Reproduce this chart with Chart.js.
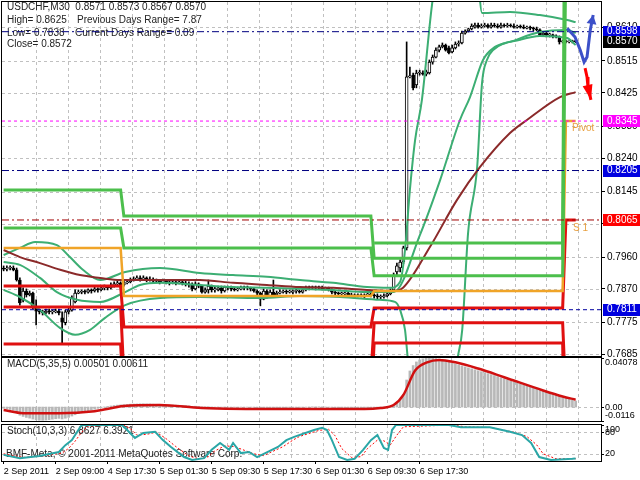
<!DOCTYPE html>
<html>
<head>
<meta charset="utf-8">
<script src="https://cdn.jsdelivr.net/npm/chart.js@4.4.0/dist/chart.umd.min.js"></script>
<style>
  body { margin: 0; background: #fff; }
  canvas { position: absolute; left: 0; }
</style>
</head>
<body>
<canvas id="mainChart" width="640" height="358" style="top:0"></canvas>
<canvas id="macdChart" width="640" height="66" style="top:357px"></canvas>
<canvas id="stochChart" width="640" height="57" style="top:423px"></canvas>
<script>
// ---- data ----
const opens = [.7929,.7926,.7929,.7929,.7924,.7895,.7839,.7864,.7853,.7858,.7819,.7807,.7805,.7802,.7807,.7805,.7805,.7807,.7788,.7774,
  .7805,.7810,.7833,.7858,.7861,.7864,.7861,.7867,.7864,.7870,.7867,.7873,.7875,.7873,.7881,.7884,.7887,.7881,.7887,.7890,
  .7895,.7898,.7901,.7898,.7901,.7895,.7898,.7892,.7892,.7890,.7892,.7890,.7887,.7890,.7887,.7890,.7887,.7884,.7881,.7870,
  .7884,.7878,.7861,.7867,.7878,.7867,.7867,.7873,.7864,.7875,.7873,.7870,.7867,.7870,.7873,.7873,.7873,.7870,.7864,.7858,
  .7841,.7864,.7850,.7861,.7853,.7858,.7861,.7864,.7861,.7861,.7864,.7864,.7861,.7867,.7873,.7873,.7875,.7873,.7873,.7870,
  .7873,.7867,.7861,.7858,.7856,.7856,.7858,.7853,.7850,.7850,.7853,.7850,.7853,.7856,.7853,.7850,.7847,.7847,.7850,.7856,
  .7867,.7918,.7929,.7946,.7986,.8470,.8475,.8447,.8481,.8481,.8478,.8481,.8512,.8526,.8546,.8555,.8560,.8552,.8541,.8552,
  .8563,.8566,.8594,.8600,.8606,.8611,.8617,.8611,.8614,.8617,.8611,.8617,.8614,.8611,.8617,.8614,.8617,.8614,.8611,.8614,
  .8611,.8608,.8611,.8608,.8606,.8603,.8589,.8594,.8589,.8589,.8586,.8583,.8569,.8572,.8569,.8569,.8571];
const highs = [.7935,.7935,.7935,.7935,.7929,.7901,.7873,.7870,.7864,.7861,.7839,.7813,.7810,.7813,.7813,.7810,.7813,.7813,.7805,.7810,
  .7816,.7850,.7867,.7867,.7867,.7867,.7870,.7870,.7875,.7873,.7878,.7881,.7878,.7887,.7890,.7892,.7890,.7892,.7895,.7901,
  .7904,.7907,.7907,.7907,.7904,.7904,.7901,.7898,.7895,.7898,.7895,.7892,.7895,.7892,.7895,.7892,.7892,.7890,.7887,.7890,
  .7887,.7881,.7873,.7895,.7881,.7875,.7878,.7878,.7878,.7878,.7878,.7875,.7875,.7878,.7878,.7878,.7875,.7873,.7867,.7861,
  .7870,.7867,.7867,.7895,.7864,.7867,.7867,.7867,.7867,.7867,.7870,.7867,.7870,.7878,.7878,.7878,.7878,.7878,.7878,.7875,
  .7875,.7870,.7864,.7861,.7861,.7861,.7861,.7858,.7856,.7856,.7856,.7856,.7858,.7858,.7856,.7856,.7853,.7856,.7864,.7870,
  .7915,.7943,.7952,.7991,.8569,.8498,.8481,.8489,.8489,.8487,.8489,.8518,.8532,.8552,.8560,.8566,.8563,.8557,.8560,.8569,
  .8572,.8600,.8603,.8608,.8620,.8622,.8622,.8620,.8622,.8620,.8622,.8622,.8620,.8622,.8620,.8622,.8620,.8620,.8617,.8617,
  .8617,.8614,.8614,.8611,.8611,.8606,.8597,.8597,.8594,.8591,.8589,.8586,.8574,.8574,.8572,.8574,.8573];
const lows = [.7921,.7921,.7924,.7921,.7892,.7824,.7833,.7847,.7850,.7813,.7768,.7799,.7796,.7799,.7799,.7799,.7802,.7796,.7717,.7768,
  .7799,.7807,.7830,.7856,.7856,.7856,.7858,.7858,.7861,.7861,.7864,.7867,.7867,.7870,.7875,.7878,.7867,.7878,.7884,.7887,
  .7892,.7895,.7892,.7895,.7890,.7892,.7887,.7887,.7884,.7887,.7884,.7881,.7884,.7881,.7884,.7881,.7878,.7875,.7864,.7867,
  .7873,.7858,.7858,.7858,.7861,.7861,.7864,.7858,.7861,.7867,.7864,.7864,.7864,.7867,.7867,.7867,.7864,.7861,.7853,.7822,
  .7839,.7844,.7847,.7847,.7850,.7856,.7858,.7856,.7858,.7856,.7858,.7858,.7858,.7864,.7867,.7870,.7867,.7870,.7867,.7867,
  .7864,.7856,.7853,.7853,.7850,.7853,.7847,.7847,.7844,.7847,.7847,.7844,.7850,.7847,.7844,.7841,.7841,.7844,.7847,.7853,
  .7861,.7909,.7918,.7941,.7980,.8467,.8433,.8439,.8475,.8475,.8473,.8478,.8506,.8524,.8541,.8552,.8543,.8535,.8538,.8549,
  .8557,.8563,.8591,.8597,.8603,.8608,.8608,.8608,.8611,.8608,.8608,.8611,.8608,.8608,.8611,.8611,.8611,.8608,.8608,.8608,
  .8606,.8606,.8603,.8600,.8600,.8586,.8586,.8583,.8583,.8580,.8580,.8563,.8566,.8566,.8566,.8566,.8567];
const closes = [.7926,.7929,.7929,.7924,.7895,.7830,.7864,.7853,.7858,.7819,.7807,.7805,.7802,.7807,.7805,.7805,.7807,.7802,.7776,.7805,
  .7810,.7844,.7858,.7861,.7864,.7861,.7867,.7864,.7870,.7867,.7873,.7875,.7873,.7881,.7884,.7887,.7881,.7887,.7890,.7895,
  .7898,.7901,.7898,.7901,.7895,.7898,.7892,.7892,.7890,.7892,.7890,.7887,.7890,.7887,.7890,.7887,.7884,.7881,.7870,.7884,
  .7878,.7861,.7867,.7878,.7867,.7867,.7873,.7864,.7875,.7873,.7870,.7867,.7870,.7873,.7873,.7873,.7870,.7864,.7858,.7841,
  .7864,.7850,.7861,.7853,.7858,.7861,.7864,.7861,.7861,.7864,.7864,.7861,.7867,.7873,.7873,.7875,.7873,.7873,.7870,.7873,
  .7867,.7861,.7858,.7856,.7856,.7858,.7853,.7850,.7850,.7853,.7850,.7853,.7856,.7853,.7850,.7847,.7847,.7850,.7856,.7867,
  .7909,.7935,.7946,.7986,.8470,.8473,.8439,.8481,.8481,.8478,.8484,.8512,.8526,.8546,.8555,.8560,.8546,.8538,.8552,.8563,
  .8566,.8594,.8600,.8606,.8614,.8617,.8611,.8614,.8617,.8611,.8617,.8614,.8611,.8617,.8614,.8617,.8614,.8611,.8614,.8611,
  .8608,.8611,.8608,.8606,.8603,.8589,.8594,.8589,.8589,.8586,.8583,.8569,.8572,.8569,.8569,.8572,.8570];

// [bar, price] points
const maLine = [[0,.7980],[5,.7960],[11.2,.7943],[17.4,.7924],[23.5,.7909],[29.7,.7901],[35.8,.7895],[42,.7895],[60.4,.7895],
  [70.6,.7887],[81,.7881],[91.2,.7875],[101.4,.7873],[111.8,.7867],[119.8,.7864],[122.9,.7873],[131.2,.7989],[139.5,.8122],
  [146.6,.8215],[155.8,.8311],[161,.8348],[171.2,.8413],[176,.8427]];
const bbUpper = [[0,.7966],[5,.7986],[9.7,.8003],[16.4,.7994],[20.4,.7960],[24.4,.7924],[29.7,.7895],[37.4,.7918],[48.1,.7929],
  [60.4,.7915],[70.6,.7909],[81,.7904],[91.2,.7895],[101.4,.7887],[111.8,.7875],[118.9,.7873],[122,.7890],[123.5,.7980],
  [125,.8150],[126.6,.8291],[128.7,.8405],[131.8,.8674],[134,.8800],[140,.8950],[145.5,.8800],[147.2,.8651],[155.8,.8654],
  [165,.8645],[173.4,.8631],[176,.8625]];
const bbMiddle = [[0,.7946],[5,.7938],[11.2,.7901],[16.4,.7861],[22.6,.7839],[29.7,.7833],[37.4,.7861],[42,.7881],[48.1,.7887],
  [60.4,.7881],[70.6,.7875],[81,.7873],[91.2,.7870],[101.4,.7867],[111.8,.7861],[120,.7861],[128.1,.8023],[134.3,.8178],
  [140.4,.8348],[143.5,.8413],[147.5,.8518],[151.2,.8555],[155.8,.8569],[165,.8597],[173.4,.8603],[176,.8594]];
const bbLower = [[0,.7867],[5,.7847],[11.2,.7810],[17.4,.7759],[22,.7740],[26.6,.7754],[31.2,.7788],[37.4,.7824],[48.1,.7844],
  [60.4,.7847],[79,.7844],[91.2,.7850],[103.5,.7847],[115.8,.7839],[120.4,.7833],[122,.7810],[123.5,.7754],[124.4,.7669],
  [128,.7450],[136,.7450],[139.8,.7680],[141.1,.7754],[142.9,.8028],[145.7,.8215],[147.2,.8453],[148.7,.8518],[150.6,.8546],
  [158.9,.8575],[165,.8586],[173.4,.8580],[176,.8560]];

// daily pivot levels, one value per day block
const segStart = [0, 37, 114, 173];
const segEnd = [36, 113, 172, 176];
const r3 = [null, null, .8000, .9639];
const r2 = [.8150, .8076, .7957, .9132];
const r1 = [.8042, .7986, .7907, .8852];
const pp = [.7986, .7850, .7864, .8345];
const s1 = [.7878, .7762, .7816, .8065];
const s2 = [.7819, .7624, .7774, .7558];
const s3 = [.7714, .7533, .7717, .7278];

// horizontal lines and their price tags
const levelValues = [0.8598, 0.8570, 0.8345, 0.8205, 0.8065, 0.7811];
const levelBoxColors = ['#0000e0', '#000000', '#ff00ff', '#0000e0', '#ff0000', '#0000e0'];

const blueArrow = [[173.4,.8608],[175.8,.8583],[177.4,.8546],[178.6,.8512],[179.5,.8526],[180.5,.8603],[181.4,.8645]];
const redArrow = [[178.9,.8495],[179.5,.8470],[179.8,.8441],[180.7,.8405]];

const mainTicks = [0.8610, 0.8515, 0.8425, 0.8330, 0.8240, 0.8145, 0.8055, 0.7960, 0.7870, 0.7775, 0.7685];

const macdHist = [-.0010,-.0015,-.0020,-.0028,-.0044,-.0068,-.0078,-.0086,-.0092,-.0100,-.0106,-.0109,-.0110,-.0108,-.0105,-.0101,-.0097,-.0094,-.0099,-.0093,
  -.0086,-.0075,-.0064,-.0055,-.0047,-.0039,-.0032,-.0025,-.0018,-.0011,-.0005,.0001,.0005,.0009,.0013,.0016,.0018,.0020,.0022,.0024,
  .0025,.0026,.0027,.0027,.0026,.0026,.0024,.0023,.0022,.0021,.0019,.0018,.0017,.0016,.0015,.0013,.0012,.0010,.0006,.0007,
  .0005,.0002,.0002,.0003,.0001,.0000,.0001,-.0001,.0001,.0000,.0000,-.0001,-.0001,.0000,.0000,.0000,-.0001,-.0002,-.0006,-.0012,
  -.0008,-.0010,-.0008,-.0008,-.0007,-.0006,-.0005,-.0005,-.0004,-.0004,-.0003,-.0003,-.0002,.0000,.0001,.0002,.0002,.0002,.0002,.0001,
  .0000,-.0003,-.0005,-.0006,-.0007,-.0007,-.0008,-.0009,-.0009,-.0009,-.0009,-.0009,-.0008,-.0008,-.0008,-.0009,-.0009,-.0008,-.0006,-.0002,
  .0012,.0035,.0062,.0105,.0225,.0300,.0345,.0375,.0392,.0401,.0406,.0408,.0408,.0404,.0398,.0391,.0383,.0375,.0367,.0358,
  .0350,.0342,.0334,.0326,.0318,.0310,.0302,.0294,.0286,.0278,.0270,.0262,.0253,.0244,.0235,.0226,.0217,.0208,.0200,.0192,
  .0184,.0176,.0168,.0160,.0151,.0142,.0133,.0124,.0115,.0106,.0097,.0088,.0080,.0072,.0064,.0057,.0050];
const macdSignal = [[0,-.0025],[6,-.0051],[17,-.0051],[28,-.0034],[37,.0008],[48,.0017],[61,-.0008],[86,-.0017],[111,-.0017],
  [116,-.0008],[120,.0017],[123,.0101],[126.6,.0304],[130.3,.0372],[134,.0392],[139,.0372],[146,.0320],[154,.0248],
  [166,.0138],[172,.0088],[176,.0061]];
const macdAxisTicks = [0.04078, 0, -0.0116];
const macdAxisLabels = ['0.04078', '0.00', '-0.0116'];

const stochMain = [[0,17],[5,8],[11,14],[17,25],[19,44],[21,58],[22,72],[24,100],[36.4,100],[38,86],[40.4,64],[43,78],[46.6,81],
  [49,58],[51.5,39],[55.5,11],[58,3],[61.7,8],[64,31],[66.6,50],[69.4,31],[70.6,50],[73,22],[75.5,25],[78,11],[84.4,39],[87,58],
  [89.4,67],[95.5,86],[98,92],[99.5,86],[101,58],[103.2,11],[105.7,3],[108,6],[110.6,31],[113,58],[115,72],[117,36],[118.3,31],
  [119.5,86],[120.7,100],[137,100],[140.7,94],[149.6,94],[155.8,81],[159.5,72],[162.3,50],[164.8,11],[168.4,3],[175,6],[176,6.86]];
const stochSignal = [[0,20],[6,10],[12,14],[18,22],[20,35],[22,55],[24,80],[26,97],[37,100],[39,90],[41,72],[44,74],[47,80],
  [50,62],[53,40],[57,14],[60,6],[63,12],[65,28],[68,42],[71,40],[74,30],[77,20],[80,15],[86,40],[89,58],[91,68],[97,85],
  [100,88],[102,70],[104,35],[107,10],[110,12],[112,35],[115,58],[117,56],[119,45],[121,72],[123,95],[138,100],[142,95],
  [150,93],[157,80],[161,68],[164,45],[166,20],[170,6],[176,6.39]];
const stochAxisTicks = [100, 80, 20];

const labelBars = [0, 16, 32, 48, 64, 80, 96, 112, 128];
const labelTexts = ['2 Sep 2011', '2 Sep 09:00', '4 Sep 17:30', '5 Sep 01:30', '5 Sep 09:30', '5 Sep 17:30', '6 Sep 01:30', '6 Sep 09:30', '6 Sep 17:30'];

// ---- drawing ----
const X_MIN = -0.5, X_MAX = 183.8;
const FONT = '10px "Liberation Sans", Arial, sans-serif';
const SMALL_FONT = '9px "Liberation Sans", Arial, sans-serif';
Chart.defaults.font.family = '"Liberation Sans", Arial, sans-serif';
Chart.defaults.font.size = 10;
Chart.defaults.color = '#000';
Chart.defaults.animation = false;
Chart.defaults.plugins.legend.display = false;
Chart.defaults.plugins.tooltip.enabled = false;
Chart.defaults.elements.point.radius = 0;

const pts = arr => arr.map(([x, y]) => ({x, y}));
function stepPoints(levels) {
  const out = [];
  levels.forEach((v, k) => {
    if (v === null) { out.push({x: segStart[k], y: null}); return; }
    out.push({x: segStart[k], y: v}, {x: segEnd[k], y: v});
  });
  return out;
}
const line = (data, color, width, extra) => Object.assign({
  type: 'line', data, borderColor: color, borderWidth: width, pointRadius: 0, fill: false, spanGaps: false
}, extra || {});

function rightAxis(extra) {
  return Object.assign({
    position: 'right',
    afterFit: s => { s.width = 39; s.paddingTop = 0; s.paddingBottom = 0; }
  }, extra);
}

// grid, frame and panel text
function panelPlugin(hLines, texts, axisLabels) {
  return {
    id: 'panel',
    beforeDatasetsDraw(chart) {
      const {ctx, chartArea: a, scales: {x, y}} = chart;
      ctx.save();
      ctx.strokeStyle = '#c0c0c0';
      ctx.lineWidth = 1;
      ctx.setLineDash([3, 3]);
      ctx.beginPath();
      for (let b = 9.97; b < X_MAX; b += 9.815) {
        const px = Math.round(x.getPixelForValue(b)) + 0.5;
        ctx.moveTo(px, a.top); ctx.lineTo(px, a.bottom);
      }
      hLines.forEach(v => {
        const py = Math.round(y.getPixelForValue(v)) + 0.5;
        ctx.moveTo(a.left, py); ctx.lineTo(a.right, py);
      });
      ctx.stroke();
      ctx.setLineDash([]);
      ctx.font = FONT;
      ctx.fillStyle = '#222';
      ctx.textBaseline = 'middle';
      ctx.textAlign = 'left';
      texts.forEach(([t, tx, ty]) => ctx.fillText(t, tx, ty));
      ctx.restore();
    },
    afterDraw(chart) {
      const {ctx, chartArea: a, scales: {y}} = chart;
      ctx.save();
      if (axisLabels) {
        ctx.font = SMALL_FONT;
        ctx.fillStyle = '#000';
        ctx.textBaseline = 'middle';
        axisLabels.forEach(([v, t]) => {
          let py = y.getPixelForValue(v);
          py = Math.min(Math.max(py, a.top + 5), a.bottom - 5);
          ctx.fillText(t, 605, py);
          ctx.fillRect(a.right, Math.round(y.getPixelForValue(v)), 3, 1);
        });
      }
      ctx.strokeStyle = '#000';
      ctx.lineWidth = 1;
      ctx.strokeRect(a.left - 0.5, a.top - 0.5, a.width + 1, a.height + 1);
      ctx.restore();
    }
  };
}

function drawHead(ctx, p1, p2, color, len, half) {
  const ang = Math.atan2(p2.y - p1.y, p2.x - p1.x);
  const bx = p2.x - Math.cos(ang) * len, by = p2.y - Math.sin(ang) * len;
  ctx.fillStyle = color;
  ctx.beginPath();
  ctx.moveTo(p2.x, p2.y);
  ctx.lineTo(bx + Math.sin(ang) * half, by - Math.cos(ang) * half);
  ctx.lineTo(bx - Math.sin(ang) * half, by + Math.cos(ang) * half);
  ctx.closePath();
  ctx.fill();
}

const mainExtras = {
  id: 'mainExtras',
  afterDatasetsDraw(chart) {
    const {ctx, scales: {x, y}} = chart;
    const px = ([b, v]) => ({x: x.getPixelForValue(b), y: y.getPixelForValue(v)});
    ctx.save();
    drawHead(ctx, px(blueArrow[blueArrow.length - 2]), px(blueArrow[blueArrow.length - 1]), '#3c50c8', 9, 5);
    drawHead(ctx, px(redArrow[redArrow.length - 2]), px(redArrow[redArrow.length - 1]), '#ff0000', 15, 5);
    ctx.font = FONT;
    ctx.fillStyle = '#e8a040';
    ctx.textBaseline = 'middle';
    ctx.fillText('Pivot', x.getPixelForValue(174.9), y.getPixelForValue(pp[3]) + 7);
    ctx.fillText('S 1', x.getPixelForValue(175.2), y.getPixelForValue(s1[3]) + 8);
    ctx.restore();
  },
  afterDraw(chart) {
    const {ctx, scales: {y}} = chart;
    ctx.save();
    ctx.font = FONT;
    ctx.textBaseline = 'middle';
    levelValues.forEach((v, k) => {
      const py = y.getPixelForValue(v);
      ctx.fillStyle = levelBoxColors[k];
      ctx.fillRect(603, Math.round(py) - 6, 37, 12);
      ctx.fillStyle = '#fff';
      ctx.fillText(v.toFixed(4), 607, py);
    });
    ctx.restore();
  }
};

const idx = closes.map((c, i) => i);
const pivotGreen = '#4cbf4c', pivotRed = '#e01010', pivotOrange = '#f0a428';
const dashDot = [7, 3, 2, 3];
const levelStyles = [
  ['#000080', dashDot], ['rgba(0,0,0,0)', []], ['#ff00ff', [3, 3]],
  ['#000080', dashDot], ['#a00000', dashDot], ['#0000a0', [4, 3]]
];

new Chart(document.getElementById('mainChart'), {
  type: 'bar',
  data: {
    datasets: [
      line(pts(blueArrow), '#3c50c8', 3, {order: 0}),
      line(pts(redArrow), '#ff0000', 3, {order: 0}),
      ...levelValues.map((v, k) => line([{x: X_MIN, y: v}, {x: X_MAX, y: v}], levelStyles[k][0], 1,
        {borderDash: levelStyles[k][1], order: 1})),
      line(stepPoints(r3), pivotGreen, 3, {order: 2}),
      line(stepPoints(r2), pivotGreen, 3, {order: 2}),
      line(stepPoints(r1), pivotGreen, 3, {order: 2}),
      line(stepPoints(pp), pivotOrange, 2.5, {order: 2}),
      line(stepPoints(s1), pivotRed, 3, {order: 2}),
      line(stepPoints(s2), pivotRed, 3, {order: 2}),
      line(stepPoints(s3), pivotRed, 3, {order: 2}),
      line(pts(maLine), '#8b2a2a', 2, {order: 3, cubicInterpolationMode: 'monotone'}),
      line(pts(bbUpper), '#3cae73', 2, {order: 3, cubicInterpolationMode: 'monotone'}),
      line(pts(bbMiddle), '#3cae73', 2, {order: 3, cubicInterpolationMode: 'monotone'}),
      line(pts(bbLower), '#3cae73', 2, {order: 3, cubicInterpolationMode: 'monotone'}),
      {
        type: 'bar', order: 5, grouped: false,
        data: idx.map(i => ({x: i, y: [opens[i], closes[i]]})),
        barThickness: 3, minBarLength: 1, borderWidth: 1, borderSkipped: false,
        borderColor: '#000',
        backgroundColor: ctx => closes[ctx.dataIndex] >= opens[ctx.dataIndex] ? '#fff' : '#000'
      },
      {
        type: 'bar', order: 6, grouped: false,
        data: idx.map(i => ({x: i, y: [lows[i], highs[i]]})),
        barThickness: 1, backgroundColor: '#000', borderWidth: 0
      }
    ]
  },
  options: {
    responsive: false,
    devicePixelRatio: 1,
    layout: {padding: {left: 2, right: 0, top: 2, bottom: 2}},
    scales: {
      x: {type: 'linear', min: X_MIN, max: X_MAX, display: false, offset: false},
      y: rightAxis({
        min: 0.7680, max: 0.8682,
        afterBuildTicks: s => { s.ticks = mainTicks.map(v => ({value: v})); },
        ticks: {autoSkip: false, padding: 2, callback: v => Number(v).toFixed(4)},
        grid: {display: true, drawOnChartArea: false, drawTicks: true, tickLength: 4, color: '#000'},
        border: {display: false}
      })
    }
  },
  plugins: [
    panelPlugin(mainTicks, [
      ['USDCHF,M30  0.8571 0.8573 0.8567 0.8570', 7, 7],
      ['High= 0.8625', 7, 20.5], ['Previous Days Range= 7.87', 77, 20.5],
      ['Low= 0.7838', 7, 33], ['Current Days Range= 0.09', 75, 33],
      ['Close= 0.8572', 7, 44.5]
    ]),
    mainExtras
  ]
});

new Chart(document.getElementById('macdChart'), {
  type: 'bar',
  data: {
    datasets: [
      line(pts(macdSignal), '#d01010', 2.5, {order: 0, cubicInterpolationMode: 'monotone'}),
      {
        type: 'bar', order: 1, grouped: false,
        data: macdHist.map((v, i) => ({x: i, y: v})),
        barThickness: 2, backgroundColor: '#b8b8b8', borderWidth: 0
      }
    ]
  },
  options: {
    responsive: false,
    devicePixelRatio: 1,
    layout: {padding: {left: 2, right: 0, top: 1, bottom: 2}},
    scales: {
      x: {type: 'linear', min: X_MIN, max: X_MAX, display: false, offset: false},
      y: rightAxis({min: -0.0116, max: 0.04078, ticks: {display: false}, grid: {display: false}, border: {display: false}})
    }
  },
  plugins: [panelPlugin([0], [['MACD(5,35,5) 0.00501 0.00611', 7, 7]],
    macdAxisTicks.map((v, k) => [v, macdAxisLabels[k]]))]
});

new Chart(document.getElementById('stochChart'), {
  type: 'line',
  data: {
    datasets: [
      line(pts(stochMain), '#2aa6a6', 2, {order: 0}),
      line(pts(stochSignal), '#ff0000', 1, {order: 1, borderDash: [2, 2]})
    ]
  },
  options: {
    responsive: false,
    devicePixelRatio: 1,
    layout: {padding: {left: 2, right: 0, top: 2, bottom: 0}},
    scales: {
      x: {
        type: 'linear', min: X_MIN, max: X_MAX, offset: false,
        afterBuildTicks: s => { s.ticks = labelBars.map(v => ({value: v})); },
        afterFit: s => { s.height = 19; s.paddingLeft = 0; s.paddingRight = 0; },
        ticks: {autoSkip: false, maxRotation: 0, align: 'start', padding: 2, font: {size: 9},
          callback: (v, i) => labelTexts[i]},
        grid: {display: true, drawOnChartArea: false, drawTicks: true, tickLength: 3, color: '#000'},
        border: {display: false}
      },
      y: rightAxis({min: 0, max: 100, ticks: {display: false}, grid: {display: false}, border: {display: false}})
    }
  },
  plugins: [panelPlugin([80, 20], [
    ['Stoch(10,3,3) 6.8627 6.3921', 7, 8],
    ['BMF-Meta, \u00a9 2001-2011 MetaQuotes Software Corp.', 6, 31]
  ], stochAxisTicks.map(v => [v, String(v)]))]
});
</script>
</body>
</html>
